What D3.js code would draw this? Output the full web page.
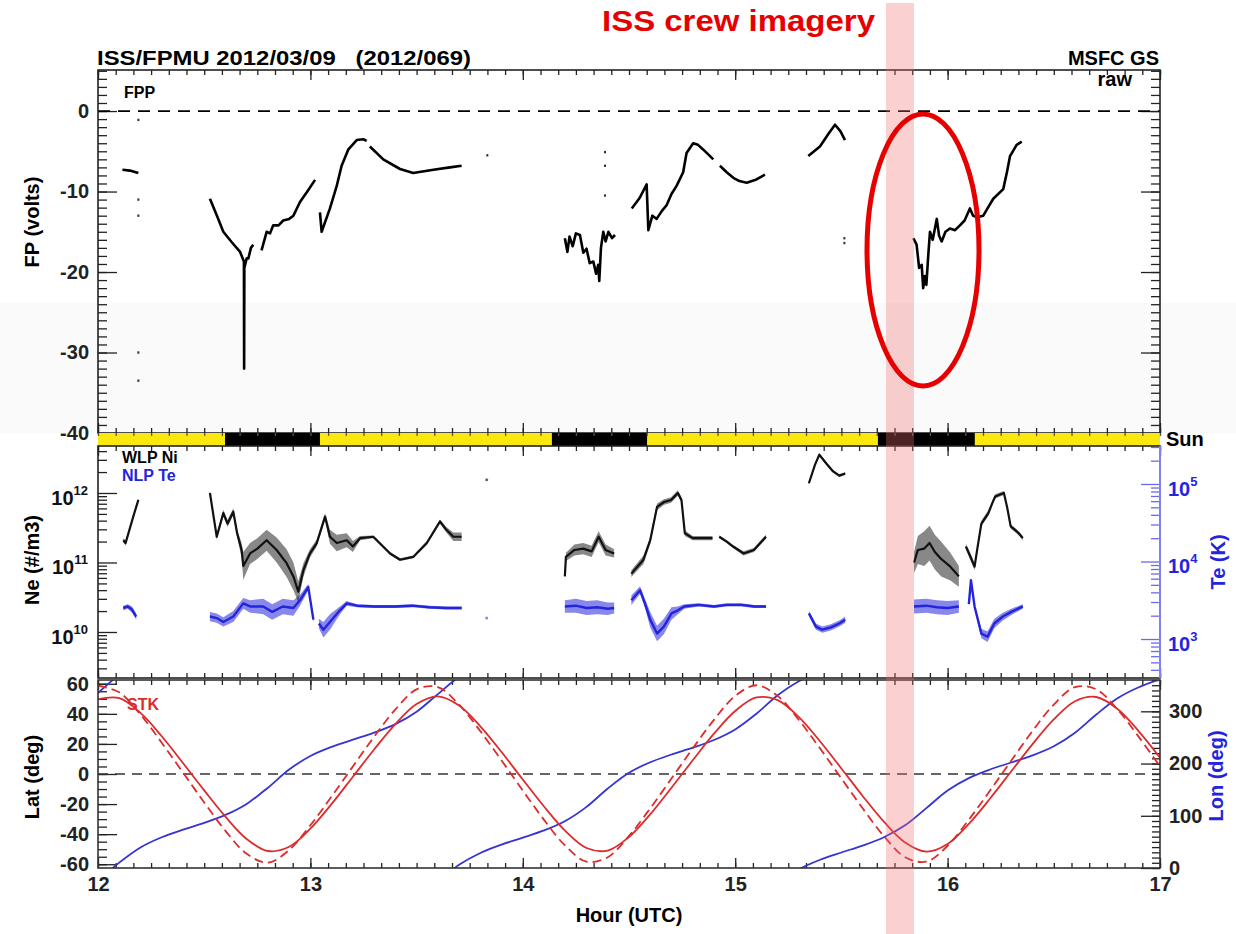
<!DOCTYPE html>
<html>
<head>
<meta charset="utf-8">
<script src="https://cdn.jsdelivr.net/npm/d3@7"></script>
<style>
body { margin: 0; background: #fff; }
text { font-family: "Liberation Sans", Arial, sans-serif; font-weight: bold; }
</style>
</head>
<body>
<div id="chart"></div>
<script>
// ---- data ----
// floating potential (hour, volts); null = data gap
const fpData = [
  [12.115,-7.3],[12.15,-7.4],[12.19,-7.7], null,
  [12.527,-10.9],[12.56,-13.0],[12.59,-15.0],[12.63,-16.3],[12.669,-17.5],[12.687,-18.7],[12.688,-32.0],[12.689,-19.5],[12.70,-18.3],[12.708,-18.3],[12.72,-17.0],[12.731,-16.6], null,
  [12.77,-17.3],[12.794,-15.0],[12.81,-15.2],[12.825,-14.2],[12.85,-14.2],[12.872,-13.6],[12.90,-13.4],[12.92,-13.0],[12.951,-11.3],[12.983,-10.1],[13.022,-8.55], null,
  [13.045,-12.6],[13.053,-15.0],[13.092,-12.1],[13.124,-9.3],[13.147,-6.8],[13.178,-4.8],[13.218,-3.6],[13.249,-3.5],[13.265,-3.7], null,
  [13.28,-4.4],[13.343,-6.0],[13.422,-7.2],[13.484,-7.7],[13.579,-7.3],[13.657,-7.0],[13.712,-6.8], null,
  [14.198,-15.8],[14.21,-17.5],[14.22,-15.6],[14.235,-16.8],[14.25,-15.2],[14.269,-15.4],[14.285,-17.6],[14.30,-17.1],[14.315,-18.9],[14.332,-18.7],[14.345,-20.2],[14.355,-19.1],[14.36,-21.1],[14.368,-17.0],[14.379,-15.0],[14.39,-16.2],[14.403,-15.0],[14.42,-15.8],[14.434,-15.4], null,
  [14.513,-12.1],[14.55,-10.8],[14.583,-9.1],[14.591,-14.8],[14.61,-13.0],[14.63,-13.4],[14.655,-12.4],[14.677,-11.7],[14.70,-10.3],[14.724,-9.3],[14.755,-7.6],[14.771,-5.2],[14.802,-4.0],[14.825,-4.2],[14.85,-4.8],[14.897,-6.0], null,
  [14.928,-6.8],[14.96,-7.6],[14.991,-8.3],[15.02,-8.7],[15.054,-8.9],[15.1,-8.5],[15.14,-7.9], null,
  [15.344,-5.6],[15.399,-4.4],[15.44,-2.8],[15.47,-1.7],[15.495,-2.5],[15.517,-3.6], null,
  [15.839,-15.8],[15.854,-16.6],[15.866,-19.5],[15.878,-19.1],[15.885,-22.0],[15.893,-20.5],[15.90,-21.6],[15.909,-17.9],[15.917,-15.0],[15.93,-16.0],[15.949,-13.4],[15.96,-15.5],[15.972,-16.2],[15.99,-15.0],[16.011,-14.6],[16.035,-14.8],[16.058,-14.2],[16.08,-13.6],[16.105,-12.1],[16.12,-13.0],[16.137,-13.2],[16.168,-13.0],[16.19,-12.0],[16.215,-10.9],[16.262,-9.7],[16.28,-7.5],[16.294,-5.6],[16.325,-4.2],[16.349,-3.8]
];
const fpDots = [[12.19,-1.1],[12.19,-11.0],[12.19,-13.0],[12.19,-30.0],[12.19,-33.5],[13.833,-5.5],[14.387,-5.1],[14.387,-6.8],[14.387,-10.5],[15.514,-15.8],[15.514,-16.4]];

// WLP Ni: (hour, log10 density, scatter half-width in decades)
const neData = [
  [12.119,11.32,0.03],[12.13,11.28,0.04],[12.166,11.66,0.02],[12.19,11.90,0.02], null,
  [12.527,12.0,0.02],[12.559,11.37,0.04],[12.59,11.71,0.05],[12.61,11.56,0.05],[12.637,11.73,0.05],[12.655,11.42,0.06],[12.676,11.18,0.1],[12.684,10.95,0.2],[12.716,11.13,0.15],[12.75,11.2,0.15],[12.794,11.32,0.15],[12.841,11.18,0.18],[12.888,10.99,0.2],[12.92,10.80,0.2],[12.943,10.58,0.15],[12.967,10.89,0.1],[12.998,11.13,0.06],[13.03,11.28,0.05],[13.069,11.66,0.05],[13.092,11.37,0.1],[13.124,11.28,0.12],[13.171,11.32,0.1],[13.2,11.23,0.08],[13.234,11.35,0.03],[13.296,11.37,0.02],[13.375,11.13,0.02],[13.422,11.04,0.02],[13.484,11.08,0.02],[13.548,11.28,0.03],[13.61,11.59,0.03],[13.64,11.47,0.04],[13.673,11.37,0.06],[13.712,11.37,0.06], null,
  [14.198,10.8,0.05],[14.203,11.08,0.06],[14.243,11.18,0.08],[14.285,11.2,0.08],[14.324,11.16,0.08],[14.357,11.37,0.08],[14.39,11.18,0.08],[14.43,11.13,0.06], null,
  [14.511,10.84,0.05],[14.568,11.04,0.06],[14.6,11.32,0.05],[14.632,11.80,0.05],[14.665,11.87,0.04],[14.698,11.90,0.04],[14.73,12.0,0.04],[14.747,11.90,0.04],[14.763,11.42,0.04],[14.8,11.35,0.03],[14.893,11.35,0.03], null,
  [14.925,11.37,0.02],[14.96,11.3,0.02],[14.99,11.23,0.02],[15.039,11.13,0.03],[15.088,11.18,0.03],[15.145,11.37,0.03], null,
  [15.347,12.14,0.02],[15.375,12.4,0.02],[15.396,12.55,0.02],[15.43,12.42,0.02],[15.461,12.31,0.02],[15.49,12.25,0.02],[15.518,12.28,0.02], null,
  [15.842,11.0,0.15],[15.86,11.18,0.2],[15.89,11.2,0.25],[15.915,11.28,0.25],[15.94,11.15,0.25],[15.97,11.05,0.25],[16.013,10.94,0.2],[16.053,10.80,0.15], null,
  [16.086,11.23,0.04],[16.105,11.1,0.05],[16.127,10.94,0.05],[16.14,11.2,0.05],[16.159,11.56,0.04],[16.192,11.71,0.04],[16.21,11.85,0.03],[16.224,11.95,0.03],[16.265,12.0,0.03],[16.28,11.8,0.03],[16.297,11.52,0.03],[16.317,11.47,0.03],[16.335,11.42,0.03],[16.354,11.35,0.03]
];
const neDots = [[13.83,12.19]];

// NLP Te: (hour, log10 K, scatter half-width in decades)
const teData = [
  [12.119,3.40,0.03],[12.14,3.42,0.03],[12.16,3.38,0.04],[12.18,3.29,0.04], null,
  [12.527,3.29,0.06],[12.559,3.27,0.06],[12.59,3.22,0.06],[12.637,3.29,0.07],[12.684,3.46,0.07],[12.716,3.42,0.08],[12.778,3.42,0.1],[12.82,3.35,0.1],[12.87,3.42,0.1],[12.92,3.40,0.1],[12.951,3.50,0.07],[12.99,3.67,0.04],[13.014,3.25,0.04], null,
  [13.04,3.20,0.06],[13.061,3.12,0.1],[13.092,3.22,0.1],[13.139,3.37,0.05],[13.171,3.46,0.03],[13.22,3.43,0.02],[13.30,3.42,0.02],[13.40,3.42,0.02],[13.48,3.43,0.02],[13.56,3.41,0.02],[13.64,3.40,0.02],[13.712,3.40,0.02], null,
  [14.198,3.42,0.08],[14.25,3.43,0.09],[14.3,3.40,0.09],[14.35,3.41,0.09],[14.4,3.39,0.08],[14.43,3.40,0.07], null,
  [14.511,3.50,0.06],[14.552,3.63,0.05],[14.575,3.46,0.06],[14.6,3.25,0.1],[14.632,3.07,0.1],[14.664,3.16,0.1],[14.70,3.33,0.08],[14.73,3.37,0.05],[14.76,3.42,0.03],[14.827,3.44,0.02],[14.9,3.42,0.02],[14.96,3.44,0.02],[15.03,3.44,0.02],[15.09,3.42,0.02],[15.145,3.42,0.02], null,
  [15.347,3.33,0.03],[15.38,3.16,0.04],[15.41,3.12,0.04],[15.45,3.15,0.04],[15.49,3.20,0.04],[15.518,3.25,0.04], null,
  [15.842,3.42,0.09],[15.9,3.43,0.09],[15.95,3.41,0.09],[16.0,3.40,0.09],[16.053,3.42,0.08], null,
  [16.10,3.45,0.03],[16.11,3.76,0.03],[16.127,3.42,0.03],[16.159,3.07,0.06],[16.188,3.03,0.07],[16.22,3.20,0.06],[16.26,3.29,0.05],[16.3,3.35,0.04],[16.354,3.42,0.03]
];
const teDots = [[13.83,3.27]];

// eclipse (spacecraft in shadow) intervals, hours
const eclipses = [[12.598,13.045],[14.137,14.585],[15.672,16.128]];

// STK ephemeris sampled every 0.1 h from 12.0 to 17.0
const ephemHours = d3.range(51).map(i => 12 + i * 0.1);
const latSolid = [49.8,50.4,40.6,25.1,7.3,-10.9,-28.4,-43.2,-51.2,-48.4,-36.3,-19.9,-1.8,16.3,33.2,46.5,51.6,45.5,31.7,14.6,-3.7,-21.6,-37.8,-49.2,-50.9,-41.9,-26.8,-9.1,9.1,26.8,41.9,50.9,49.1,37.8,21.6,3.7,-14.6,-31.7,-45.5,-51.6,-46.5,-33.2,-16.3,1.8,19.9,36.3,48.4,51.2,43.2,28.4,10.9];
const latDashed = [58.7,54.3,39.5,20.8,1.0,-18.9,-37.8,-53.1,-58.9,-50.5,-34.1,-14.9,5.0,24.8,42.9,56.3,57.8,46.1,28.5,9.0,-11.0,-30.5,-47.7,-58.3,-55.3,-41.2,-22.8,-3.0,17.0,36.0,51.9,59.0,51.9,35.9,16.9,-3.0,-22.8,-41.3,-55.3,-58.3,-47.7,-30.4,-11.0,9.0,28.6,46.2,57.8,56.3,42.9,24.7,5.0];
const lonValues = [335.0,10.3,39.4,58.9,73.3,86.5,101.6,122.7,153.8,188.6,214.5,232.0,245.7,259.1,275.5,299.3,333.0,6.0,28.8,44.8,58.0,71.9,90.0,117.0,152.2,182.3,202.5,217.3,230.4,245.1,265.4,295.5,330.7,357.6,15.8,29.7,42.9,58.9,81.7,114.7,148.4,172.2,188.6,202.0,215.7,233.2,259.1,293.9,325.0,346.1,1.2];

const hourTicks = [12, 13, 14, 15, 16, 17];
const fpTicks = [0, -10, -20, -30, -40];
const latTicks = [60, 40, 20, 0, -20, -40, -60];
const lonTicks = [0, 100, 200, 300];

// ---- layout ----
const width = 1236;
const height = 934;
const FONT = '"Liberation Sans", Arial, sans-serif';
const BLUE = "#2424dc";
const RED = "#dc2c2c";

const svg = d3.select("#chart")
    .append("svg")
    .attr("width", width)
    .attr("height", height);

svg.append("rect").attr("width", width).attr("height", height).attr("fill", "#fff");
// faint grey band from the scanned original
svg.append("rect").attr("x", 0).attr("y", 303).attr("width", width).attr("height", 130).attr("fill", "#fafafa");

const x = d3.scaleLinear().domain([12, 17]).range([98, 1160]);
const yFP = d3.scaleLinear().domain([5.1, -40]).range([70, 433]);
const yNe = d3.scaleLog().domain([10 ** 9.338, 10 ** 12.676]).range([678, 446]);
const yTe = d3.scaleLog().domain([10 ** 2.497, 10 ** 5.49]).range([678, 446]);
const yLat = d3.scaleLinear().domain([-62.5, 62.5]).range([868, 680]);
const yLon = d3.scaleLinear().domain([0, 360]).range([868, 680]);

// axis helper
function drawAxis(gen, scale, transform, values, size, color, fmt) {
    const g = svg.append("g")
        .attr("transform", transform)
        .call(gen(scale).tickValues(values).tickSize(size).tickPadding(9).tickFormat(fmt || (() => "")));
    g.select(".domain").remove();
    g.selectAll("line").attr("stroke", color).attr("stroke-width", 1.3);
    g.selectAll("text")
        .attr("fill", color)
        .attr("font-size", 20)
        .attr("font-family", FONT)
        .attr("font-weight", "bold");
    return g;
}

const minutes5 = d3.range(0, 61).map(i => 12 + i / 12);

function hourAxes(yTop, yBottom, labels) {
    drawAxis(d3.axisTop, x, `translate(0,${yTop})`, minutes5, -5, "#222");
    drawAxis(d3.axisTop, x, `translate(0,${yTop})`, hourTicks, -10, "#222");
    drawAxis(d3.axisBottom, x, `translate(0,${yBottom})`, minutes5, -5, "#222");
    drawAxis(d3.axisBottom, x, `translate(0,${yBottom})`, hourTicks, -10, "#222", labels ? (d => String(d)) : null);
}

// ---- panel 1: floating potential ----
hourAxes(70, 433, false);
drawAxis(d3.axisLeft, yFP, "translate(98,0)", d3.range(-40, 6, 1), -9, "#222");
drawAxis(d3.axisLeft, yFP, "translate(98,0)", fpTicks, -19, "#222", d => String(d));
drawAxis(d3.axisRight, yFP, "translate(1160,0)", d3.range(-40, 6, 1), -9, "#222");
drawAxis(d3.axisRight, yFP, "translate(1160,0)", fpTicks, -19, "#222");

svg.append("line")
    .attr("x1", x(12)).attr("x2", x(17))
    .attr("y1", yFP(0)).attr("y2", yFP(0))
    .attr("stroke", "#000").attr("stroke-width", 1.8)
    .attr("stroke-dasharray", "12,8");

const fpLine = d3.line().defined(d => d !== null).x(d => x(d[0])).y(d => yFP(d[1]));
svg.append("path").datum(fpData)
    .attr("d", fpLine).attr("fill", "none")
    .attr("stroke", "#000").attr("stroke-width", 2.6).attr("stroke-linejoin", "round");
svg.append("g").selectAll("rect").data(fpDots).join("rect")
    .attr("x", d => x(d[0]) - 1).attr("y", d => yFP(d[1]) - 1.2)
    .attr("width", 2).attr("height", 2.4).attr("fill", "#333");

svg.append("rect").attr("x", 98).attr("y", 70).attr("width", 1062).attr("height", 363)
    .attr("fill", "none").attr("stroke", "#222").attr("stroke-width", 1.6);

// ---- sunlight bar ----
svg.append("rect").attr("x", 98).attr("y", 433).attr("width", 1062).attr("height", 13).attr("fill", "#fbe80e");
svg.append("g").selectAll("rect").data(eclipses).join("rect")
    .attr("x", d => x(d[0])).attr("width", d => x(d[1]) - x(d[0]))
    .attr("y", 433).attr("height", 13).attr("fill", "#000");
drawAxis(d3.axisTop, x, "translate(0,433)", minutes5, -3, "#555");

// ---- panel 2: density / temperature ----
hourAxes(446, 678, false);
const neMinor = [];
for (let e = 9; e <= 12; e++) for (let m = 2; m <= 9; m++) neMinor.push(m * 10 ** e);
const neMajor = [1e10, 1e11, 1e12];
drawAxis(d3.axisLeft, yNe, "translate(98,0)", neMinor.filter(v => v > yNe.domain()[0] && v < yNe.domain()[1]), -9, "#222");
drawAxis(d3.axisLeft, yNe, "translate(98,0)", neMajor, -19, "#222");
const teMinor = [];
for (let e = 2; e <= 5; e++) for (let m = 2; m <= 9; m++) teMinor.push(m * 10 ** e);
const teMajor = [1e3, 1e4, 1e5];
drawAxis(d3.axisRight, yTe, "translate(1160,0)", teMinor.filter(v => v > yTe.domain()[0] && v < yTe.domain()[1]), -9, "#6b6be8");
drawAxis(d3.axisRight, yTe, "translate(1160,0)", teMajor, -19, "#6b6be8");

function powerLabel(g, value, px, py, anchor, color) {
    const t = g.append("text")
        .attr("x", px).attr("y", py + 12)
        .attr("text-anchor", anchor)
        .attr("fill", color)
        .attr("font-size", 20);
    t.append("tspan").text("10");
    t.append("tspan").attr("dy", -10).attr("font-size", 13).text(String(Math.round(Math.log10(value))));
}
const neLabels = svg.append("g");
neMajor.forEach(v => powerLabel(neLabels, v, 88, yNe(v), "end", "#111"));
const teLabels = svg.append("g");
teMajor.forEach(v => powerLabel(teLabels, v, 1168, yTe(v), "start", BLUE));

function drawScatter(data, yScale, color, lineWidth, bandOpacity) {
    const band = d3.area().defined(d => d !== null)
        .x(d => x(d[0]))
        .y0(d => yScale(10 ** (d[1] - d[2])))
        .y1(d => yScale(10 ** (d[1] + d[2])));
    svg.append("path").datum(data).attr("d", band)
        .attr("fill", color).attr("fill-opacity", bandOpacity);
    const line = d3.line().defined(d => d !== null).x(d => x(d[0])).y(d => yScale(10 ** d[1]));
    svg.append("path").datum(data).attr("d", line)
        .attr("fill", "none").attr("stroke", color).attr("stroke-width", lineWidth)
        .attr("stroke-linejoin", "round");
}
drawScatter(teData, yTe, BLUE, 2.4, 0.55);
drawScatter(neData, yNe, "#111", 2.2, 0.5);
svg.append("g").selectAll("circle").data(neDots).join("circle")
    .attr("cx", d => x(d[0])).attr("cy", d => yNe(10 ** d[1])).attr("r", 1.5).attr("fill", "#666");
svg.append("g").selectAll("circle").data(teDots).join("circle")
    .attr("cx", d => x(d[0])).attr("cy", d => yTe(10 ** d[1])).attr("r", 1.5).attr("fill", "#8888ee");

svg.append("rect").attr("x", 98).attr("y", 446).attr("width", 1062).attr("height", 232)
    .attr("fill", "none").attr("stroke", "#222").attr("stroke-width", 1.6);
svg.append("line").attr("x1", 1160).attr("x2", 1160).attr("y1", 446).attr("y2", 678)
    .attr("stroke", "#8080f0").attr("stroke-width", 2);

// ---- panel 3: latitude / longitude ----
hourAxes(680, 868, true);
drawAxis(d3.axisLeft, yLat, "translate(98,0)", d3.range(-60, 61, 5), -9, "#222");
drawAxis(d3.axisLeft, yLat, "translate(98,0)", latTicks, -19, "#222", d => String(d));
drawAxis(d3.axisRight, yLon, "translate(1160,0)", d3.range(0, 361, 10), -8, "#222");
drawAxis(d3.axisRight, yLon, "translate(1160,0)", lonTicks, -19, "#222", d => String(d));

svg.append("line")
    .attr("x1", x(12)).attr("x2", x(17))
    .attr("y1", yLat(0)).attr("y2", yLat(0))
    .attr("stroke", "#333").attr("stroke-width", 1.5)
    .attr("stroke-dasharray", "10,7");

svg.append("clipPath").attr("id", "clip3")
    .append("rect").attr("x", 98).attr("y", 680).attr("width", 1062).attr("height", 188);
const g3 = svg.append("g").attr("clip-path", "url(#clip3)");

// longitude unwrapped so the curve can be redrawn shifted by whole turns
let turn = 0;
const lonUnwrapped = lonValues.map((v, i) => {
    if (i > 0 && v < lonValues[i - 1] - 180) turn += 360;
    return v + turn;
});
[0, 1, 2, 3].forEach(k => {
    g3.append("path")
        .datum(ephemHours.map((h, i) => [h, lonUnwrapped[i] - 360 * k]))
        .attr("d", d3.line().x(d => x(d[0])).y(d => yLon(d[1])).curve(d3.curveCatmullRom))
        .attr("fill", "none").attr("stroke", "#3434d2").attr("stroke-width", 1.8);
});
g3.append("path")
    .datum(ephemHours.map((h, i) => [h, latDashed[i]]))
    .attr("d", d3.line().x(d => x(d[0])).y(d => yLat(d[1])).curve(d3.curveCatmullRom))
    .attr("fill", "none").attr("stroke", RED).attr("stroke-width", 1.8)
    .attr("stroke-dasharray", "9,5");
g3.append("path")
    .datum(ephemHours.map((h, i) => [h, latSolid[i]]))
    .attr("d", d3.line().x(d => x(d[0])).y(d => yLat(d[1])).curve(d3.curveCatmullRom))
    .attr("fill", "none").attr("stroke", RED).attr("stroke-width", 1.8);

svg.append("rect").attr("x", 98).attr("y", 680).attr("width", 1062).attr("height", 188)
    .attr("fill", "none").attr("stroke", "#333").attr("stroke-width", 1.6);

// ---- texts ----
function label(txt, px, py, opts = {}) {
    const t = svg.append("text")
        .attr("x", px).attr("y", py)
        .attr("font-size", opts.size || 20)
        .attr("fill", opts.color || "#000")
        .attr("text-anchor", opts.anchor || "start")
        .style("white-space", "pre")
        .text(txt);
    if (opts.rotate) t.attr("transform", `rotate(-90,${px},${py})`);
    if (opts.len) t.attr("textLength", opts.len).attr("lengthAdjust", "spacingAndGlyphs");
    return t;
}
label("ISS/FPMU 2012/03/09   (2012/069)", 97, 65, { size: 20, len: 374 });
label("MSFC GS", 1159, 65, { size: 20, anchor: "end" });
label("raw", 1132, 86, { size: 20, anchor: "end" });
label("FPP", 124, 98, { size: 16 });
label("FP (volts)", 39, 222, { rotate: true, anchor: "middle" });
label("Ne (#/m3)", 39, 560, { rotate: true, anchor: "middle" });
label("Lat (deg)", 39, 777, { rotate: true, anchor: "middle" });
label("Te (K)", 1225, 562, { rotate: true, anchor: "middle", color: BLUE });
label("Lon (deg)", 1223, 776, { rotate: true, anchor: "middle", color: BLUE });
label("Sun", 1166, 446, { size: 20 });
label("WLP Ni", 122, 463, { size: 16 });
label("NLP Te", 122, 481, { size: 16, color: BLUE });
label("STK", 127, 710, { size: 16, color: RED });
label("Hour (UTC)", 629, 922, { size: 20, anchor: "middle" });

// ---- annotation: crew imagery window ----
svg.append("rect")
    .attr("x", 886).attr("y", 3).attr("width", 28).attr("height", 931)
    .attr("fill", "rgb(240,110,110)").attr("fill-opacity", 0.32);
svg.append("ellipse")
    .attr("cx", 923).attr("cy", 250).attr("rx", 56).attr("ry", 136)
    .attr("fill", "none").attr("stroke", "#e60000").attr("stroke-width", 5);
label("ISS crew imagery", 602, 31, { size: 29, color: "#e60000", len: 273 });
</script>
</body>
</html>
